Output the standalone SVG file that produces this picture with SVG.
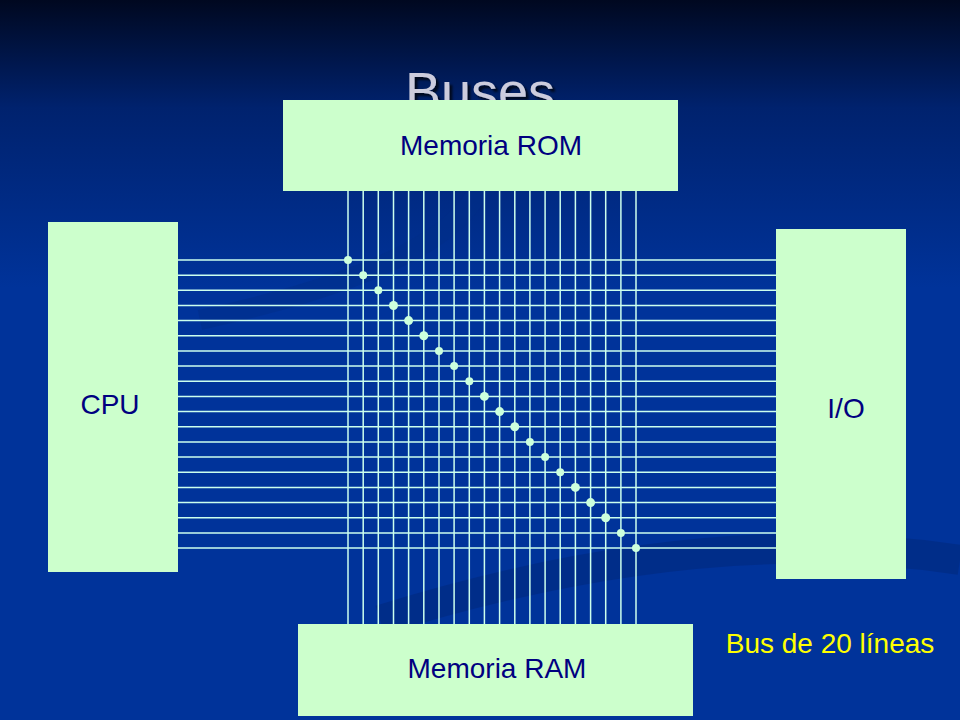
<svg xmlns="http://www.w3.org/2000/svg" width="960" height="720" viewBox="0 0 960 720">
<defs>
<linearGradient id="bg" x1="0" y1="0" x2="0" y2="1">
<stop offset="0" stop-color="#000820"/>
<stop offset="0.15" stop-color="#00226e"/>
<stop offset="0.4" stop-color="#00339a"/>
<stop offset="1" stop-color="#00339a"/>
</linearGradient>
<filter id="sh"><feDropShadow dx="3" dy="3" stdDeviation="1" flood-color="#000" flood-opacity="0.7"/></filter>
</defs>
<style>
.box{fill:#ccffcc}
.t{font-family:"Liberation Sans",Arial,sans-serif;font-size:28px;fill:#000080;text-anchor:middle}
.w{stroke:#ccffee;stroke-width:1.5}
.d{fill:#ccffdd}
</style>
<rect width="960" height="720" fill="url(#bg)"/>
<path d="M380 620 Q700 520 960 560" stroke="#00297e" stroke-width="30" fill="none" opacity="0.6"/>
<path d="M200 320 Q520 250 480 140" stroke="#002d88" stroke-width="20" fill="none" opacity="0.5"/>
<text x="480" y="110" font-family="'Liberation Sans',Arial,sans-serif" font-size="54" fill="#ccccdd" text-anchor="middle" filter="url(#sh)">Buses</text>
<g id="connectors">
<g class="w">
<line x1="348" y1="191" x2="348" y2="624"/><line x1="363.2" y1="191" x2="363.2" y2="624"/><line x1="378.3" y1="191" x2="378.3" y2="624"/><line x1="393.5" y1="191" x2="393.5" y2="624"/><line x1="408.6" y1="191" x2="408.6" y2="624"/><line x1="423.8" y1="191" x2="423.8" y2="624"/><line x1="439" y1="191" x2="439" y2="624"/><line x1="454.1" y1="191" x2="454.1" y2="624"/><line x1="469.3" y1="191" x2="469.3" y2="624"/><line x1="484.4" y1="191" x2="484.4" y2="624"/><line x1="499.6" y1="191" x2="499.6" y2="624"/><line x1="514.8" y1="191" x2="514.8" y2="624"/><line x1="529.9" y1="191" x2="529.9" y2="624"/><line x1="545.1" y1="191" x2="545.1" y2="624"/><line x1="560.2" y1="191" x2="560.2" y2="624"/><line x1="575.4" y1="191" x2="575.4" y2="624"/><line x1="590.6" y1="191" x2="590.6" y2="624"/><line x1="605.7" y1="191" x2="605.7" y2="624"/><line x1="620.9" y1="191" x2="620.9" y2="624"/><line x1="636" y1="191" x2="636" y2="624"/>
<line x1="178" y1="260" x2="776" y2="260"/><line x1="178" y1="275.2" x2="776" y2="275.2"/><line x1="178" y1="290.3" x2="776" y2="290.3"/><line x1="178" y1="305.5" x2="776" y2="305.5"/><line x1="178" y1="320.6" x2="776" y2="320.6"/><line x1="178" y1="335.8" x2="776" y2="335.8"/><line x1="178" y1="351" x2="776" y2="351"/><line x1="178" y1="366.1" x2="776" y2="366.1"/><line x1="178" y1="381.3" x2="776" y2="381.3"/><line x1="178" y1="396.4" x2="776" y2="396.4"/><line x1="178" y1="411.6" x2="776" y2="411.6"/><line x1="178" y1="426.8" x2="776" y2="426.8"/><line x1="178" y1="441.9" x2="776" y2="441.9"/><line x1="178" y1="457.1" x2="776" y2="457.1"/><line x1="178" y1="472.2" x2="776" y2="472.2"/><line x1="178" y1="487.4" x2="776" y2="487.4"/><line x1="178" y1="502.6" x2="776" y2="502.6"/><line x1="178" y1="517.7" x2="776" y2="517.7"/><line x1="178" y1="532.9" x2="776" y2="532.9"/><line x1="178" y1="548" x2="776" y2="548"/>
</g>
<g class="d">
<circle cx="348" cy="260" r="4"/><circle cx="363.2" cy="275.2" r="4"/><circle cx="378.3" cy="290.3" r="4"/><circle cx="393.5" cy="305.5" r="4.5"/><circle cx="408.6" cy="320.6" r="4.5"/><circle cx="423.8" cy="335.8" r="4.5"/><circle cx="439" cy="351" r="4"/><circle cx="454.1" cy="366.1" r="4"/><circle cx="469.3" cy="381.3" r="4"/><circle cx="484.4" cy="396.4" r="4.5"/><circle cx="499.6" cy="411.6" r="4.5"/><circle cx="514.8" cy="426.8" r="4.5"/><circle cx="529.9" cy="441.9" r="4"/><circle cx="545.1" cy="457.1" r="4"/><circle cx="560.2" cy="472.2" r="4"/><circle cx="575.4" cy="487.4" r="4.5"/><circle cx="590.6" cy="502.6" r="4.5"/><circle cx="605.7" cy="517.7" r="4.5"/><circle cx="620.9" cy="532.9" r="4"/><circle cx="636" cy="548" r="4"/>
</g>
</g>
<g id="rom"><rect class="box" x="283" y="100" width="395" height="91"/><text class="t" x="491" y="155">Memoria ROM</text></g>
<g id="ram"><rect class="box" x="298" y="624" width="395" height="92"/><text class="t" x="497" y="678">Memoria RAM</text></g>
<g id="cpu"><rect class="box" x="48" y="222" width="130" height="350"/><text class="t" x="110" y="414">CPU</text></g>
<g id="io"><rect class="box" x="776" y="229" width="130" height="350"/><text class="t" x="846" y="418">I/O</text></g>
<text x="830" y="653" font-family="'Liberation Sans',Arial,sans-serif" font-size="28" fill="#ffff00" text-anchor="middle">Bus de 20 líneas</text>
</svg>
